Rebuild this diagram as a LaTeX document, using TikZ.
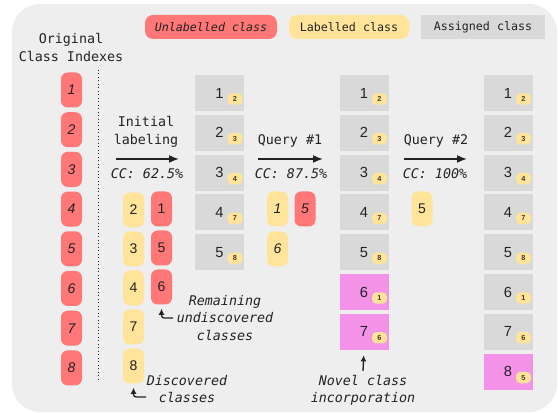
\documentclass[tikz,border=0pt]{standalone}
\usepackage{fontspec}
\setmainfont{Liberation Sans}
\setmonofont{DejaVu Sans Mono}
\usetikzlibrary{arrows.meta,calc}
\definecolor{bgc}{HTML}{EEEEEE}
\definecolor{cred}{HTML}{FF7777}
\definecolor{cyel}{HTML}{FFE49A}
\definecolor{cgray}{HTML}{D9D9D9}
\definecolor{cpink}{HTML}{F492E8}
\definecolor{ink}{HTML}{222222}
\begin{document}
\begin{tikzpicture}[x=0.75pt,y=-0.75pt,
  pill/.style={rounded corners=5pt,minimum width=15.75pt,minimum height=26.25pt,inner sep=0pt,text=ink,font=\fontsize{10.5}{12}\selectfont},
  redpill/.style={pill,fill=cred},
  yelpill/.style={pill,fill=cyel},
  abox/.style={fill=cgray,minimum width=36.75pt,minimum height=27pt,inner sep=0pt,text=ink,font=\fontsize{11}{12}\selectfont},
  pbox/.style={abox,fill=cpink},
  badge/.style={fill=cyel,rounded corners=3pt,minimum width=11pt,minimum height=8.5pt,inner sep=0pt,text=ink!75!brown,font=\fontsize{5.5}{6}\selectfont\bfseries},
  mono/.style={font=\fontsize{10}{13.5}\selectfont\ttfamily,text=ink,align=center},
  monoit/.style={font=\fontsize{10}{13}\selectfont\ttfamily\itshape,text=ink,align=center},
  legend/.style={minimum height=18pt,inner sep=0pt,text=ink,font=\fontsize{8.75}{10}\selectfont\ttfamily},
  bigarrow/.style={line width=1.2pt,-{Latex[length=7.5pt,width=6pt]},ink},
  smallarrow/.style={line width=1pt,-{Latex[length=4.5pt,width=4.5pt]},ink,rounded corners=2pt}
]
\useasboundingbox (0,0) rectangle (558,413);
\fill[white] (0,0) rectangle (558,413);
\fill[bgc,rounded corners=21pt] (12,4) rectangle (557,412);

% legend
\node[legend,fill=cred,rounded corners=6pt,minimum width=99pt,font=\fontsize{8.75}{10}\selectfont\ttfamily\itshape] (legU) at (211,27) {Unlabelled class};
\node[legend,fill=cyel,rounded corners=6pt,minimum width=90pt] (legL) at (349,27) {Labelled class};
\node[legend,fill=cgray,minimum width=93pt] (legA) at (483,27) {Assigned class};

% original indexes
\node[mono] (orig) at (71,47) {Original\\Class Indexes};
\foreach \i in {1,...,8}
  \node[redpill,font=\fontsize{10.5}{12}\selectfont\itshape] (L\i) at (71.5,{90+39.7*(\i-1)}) {\i};

\coordinate (dtop) at (98,70);
\coordinate (dbot) at (98,381);
\draw[dotted,ink,line width=0.6pt] (dtop) -- (dbot);

% column A
\foreach \n/\b [count=\i] in {1/2,2/3,3/4,4/7,5/8}{
  \node[abox] (A\n) at (219.5,{93+39.8*(\i-1)}) {\n};
  \node[badge] (Ab\n) at ($(A\n.center)+(15.5,6)$) {\b};
}
% column B
\foreach \n/\b [count=\i] in {1/2,2/3,3/4,4/7,5/8}{
  \node[abox] (B\n) at (364,{93+39.8*(\i-1)}) {\n};
  \node[badge] (Bb\n) at ($(B\n.center)+(15.5,6)$) {\b};
}
\foreach \n/\b [count=\i from 6] in {6/1,7/6}{
  \node[pbox] (B\n) at (364,{93+39.8*(\i-1)}) {\n};
  \node[badge] (Bb\n) at ($(B\n.center)+(15.5,6)$) {\b};
}
% column C
\foreach \n/\b [count=\i] in {1/2,2/3,3/4,4/7,5/8,6/1,7/6}{
  \node[abox] (C\n) at (508,{93+39.8*(\i-1)}) {\n};
  \node[badge] (Cb\n) at ($(C\n.center)+(15.5,6)$) {\b};
}
\node[pbox] (C8) at (508,{93+39.8*7}) {8};
\node[badge] (Cb8) at ($(C8.center)+(15.5,6)$) {5};

% initial labeling
\node[mono] (init) at (146,132) {Initial\\labeling};
\coordinate (a1s) at (116,159);
\coordinate (a1e) at (179,159);
\draw[bigarrow] (a1s) -- (a1e);
\node[monoit] (cc1) at (147,174) {CC: 62.5\%};
\foreach \n [count=\i] in {2,3,4,7,8}
  \node[yelpill] (Y\n) at (133.5,{210+39*(\i-1)}) {\n};
\foreach \n [count=\i] in {1,5,6}
  \node[redpill] (R\n) at (161.5,{209+39*(\i-1)}) {\n};

% query 1
\node[mono] (q1) at (290,141) {Query \#1};
\coordinate (a2s) at (258,159);
\coordinate (a2e) at (323,159);
\draw[bigarrow] (a2s) -- (a2e);
\node[monoit] (cc2) at (291,174) {CC: 87.5\%};
\node[yelpill,font=\fontsize{10.5}{12}\selectfont\itshape] (QA1) at (277.5,209) {1};
\node[yelpill,font=\fontsize{10.5}{12}\selectfont\itshape] (QA6) at (277.5,249) {6};
\node[redpill,font=\fontsize{10.5}{12}\selectfont\itshape] (QA5) at (305,209) {5};

% query 2
\node[mono] (q2) at (436,141) {Query \#2};
\coordinate (a3s) at (404,159);
\coordinate (a3e) at (467,159);
\draw[bigarrow] (a3s) -- (a3e);
\node[monoit] (cc3) at (435,174) {CC: 100\%};
\node[yelpill] (QB5) at (422,209) {5};

% annotations
\node[monoit] (rem) at (225,318) {Remaining\\undiscovered\\classes};
\coordinate (ra) at (173,318);
\draw[smallarrow,shorten >=3pt] (ra) -| (R6.south);

\node[monoit] (disc) at (187,389) {Discovered\\classes};
\coordinate (da) at (146,397);
\draw[smallarrow,shorten >=3pt] (da) -| (Y8.south);

\node[monoit] (nov) at (363,390) {Novel class\\incorporation};
\coordinate (na) at (363,371);
\draw[smallarrow,shorten >=4pt] (na) -- (B7.south);
\end{tikzpicture}
\end{document}
